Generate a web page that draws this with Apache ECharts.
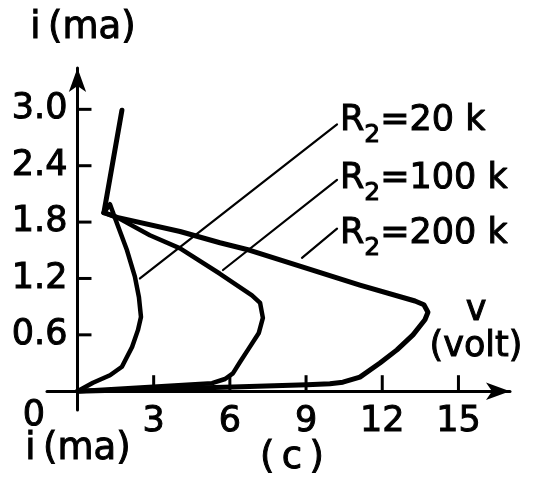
<!DOCTYPE html>
<html>
<head>
<meta charset="utf-8">
<script src="https://cdn.jsdelivr.net/npm/echarts@6/dist/echarts.min.js"></script>
<style>
  html, body { margin: 0; padding: 0; background: #fff; }
  #chart { width: 542px; height: 479px; }
</style>
</head>
<body>
<div id="chart"></div>
<script>
// Current–voltage characteristics for three values of R2.
// Points are [v (volt), i (mA)].
const upperBranch = [[1.75, 2.99], [1.04, 1.90]];

const curve20k = [
  [1.04, 1.90], [1.28, 1.99], [1.48, 1.84], [1.95, 1.50], [2.26, 1.22],
  [2.42, 1.00], [2.50, 0.79], [2.38, 0.65], [2.15, 0.47], [1.75, 0.26],
  [1.28, 0.17], [0.61, 0.09], [0, 0]
];

const curve100k = [
  [1.04, 1.90], [1.56, 1.85], [2.85, 1.66], [4.04, 1.52], [5.61, 1.25],
  [6.87, 1.02], [7.19, 0.94], [7.30, 0.78], [7.14, 0.62], [6.71, 0.44],
  [6.40, 0.31], [6.12, 0.19], [5.81, 0.13], [5.30, 0.085], [0, 0]
];

const curve200k = [
  [1.04, 1.90], [1.56, 1.85], [4.04, 1.70], [5.61, 1.58], [6.79, 1.50],
  [8.88, 1.32], [11.12, 1.13], [13.29, 0.96], [13.64, 0.92], [13.80, 0.84],
  [13.68, 0.76], [13.21, 0.60], [12.58, 0.44], [11.91, 0.30], [11.12, 0.15],
  [10.45, 0.096], [9.94, 0.08], [9.04, 0.07], [6.12, 0.045], [0, 0]
];

// Leader lines from each R2 label to its curve
const leader20k = [[10.22, 2.84], [2.46, 1.20]];
const leader100k = [[10.22, 2.25], [5.73, 1.29]];
const leader200k = [[10.22, 1.73], [8.84, 1.42]];

// Tick values on each axis
const voltTicks = [3, 6, 9, 12, 15];
const currentTicks = [0.6, 1.2, 1.8, 2.4, 3.0];
const voltStep = 3, voltLast = 15;
const currentStep = 0.6, currentLast = 3.0;

const labelR20 = '20 k';
const labelR100 = '100 k';
const labelR200 = '200 k';

const FONT = 'DejaVu Sans';
const INK = '#000';

function curve(data, width) {
  return {
    type: 'line', data: data, symbol: 'none', showSymbol: false,
    xAxisIndex: 0, yAxisIndex: 0,
    lineStyle: { color: INK, width: width, cap: 'round', join: 'round' },
    silent: true, z: 3
  };
}

// Short tick strokes placed through the axis scales; dx/dy give the
// stroke direction in pixels from the tick's position on the axis.
function tickMarks(points, dx, dy) {
  return {
    type: 'custom', xAxisIndex: 0, yAxisIndex: 0, silent: true, clip: false, z: 4,
    data: points,
    renderItem: function (params, api) {
      const p = api.coord([api.value(0), api.value(1)]);
      return {
        type: 'line',
        shape: { x1: p[0], y1: p[1], x2: p[0] + dx, y2: p[1] + dy },
        style: { stroke: INK, lineWidth: 3 }
      };
    }
  };
}

function plainText(text, x, y, size) {
  return {
    type: 'text', x: x, y: y, silent: true,
    style: {
      text: text, fill: INK, stroke: INK, lineWidth: 1,
      font: size + 'px "' + FONT + '"',
      align: 'center', verticalAlign: 'middle'
    }
  };
}

function resistorLabel(value, x, y) {
  return {
    type: 'text', x: x, y: y, silent: true,
    style: {
      text: '{r|R}{s|2}{r|=' + value + '}',
      fill: INK,
      align: 'left', verticalAlign: 'middle',
      rich: {
        r: { fontFamily: FONT, fontSize: 35, fill: INK, stroke: INK, lineWidth: 1, lineHeight: 40 },
        s: { fontFamily: FONT, fontSize: 25, fill: INK, stroke: INK, lineWidth: 1, lineHeight: 25, padding: [28, 0, 0, 0] }
      }
    }
  };
}

const chart = echarts.init(document.getElementById('chart'), null, { renderer: 'canvas' });

const axisText = {
  fontFamily: FONT, fontSize: 35, color: INK,
  textBorderColor: INK, textBorderWidth: 1
};

// Outer grid: the full axis lines (with the stubs past the origin), shifted
// inward so that they cross at zero. The curves are drawn here.
const W = 542, H = 479;
const OUTER = { left: 47, right: 32, top: 68, bottom: 69 };
const X_MIN = -1.2, X_MAX = 17.03, Y_MIN = -0.2, Y_MAX = 3.44;
const plotW = W - OUTER.left - OUTER.right;
const plotH = H - OUTER.top - OUTER.bottom;
const pxPerVolt = plotW / (X_MAX - X_MIN);
const pxPerMa = plotH / (Y_MAX - Y_MIN);
const originX = OUTER.left - X_MIN * pxPerVolt;
const originY = H - OUTER.bottom + Y_MIN * pxPerMa;

// Inner grid: same scale, starting at the origin and ending on the last
// tick, so that the labels fall on whole steps.
const INNER = {
  left: originX,
  bottom: H - originY,
  right: W - (originX + voltLast * pxPerVolt),
  top: originY - currentLast * pxPerMa
};

chart.setOption({
  animation: false,
  grid: [Object.assign({}, OUTER), Object.assign({}, INNER)],
  xAxis: [
    {
      gridIndex: 0, type: 'value', min: X_MIN, max: X_MAX,
      position: 'bottom', offset: -(0 - Y_MIN) * pxPerMa,
      splitLine: { show: false }, axisTick: { show: false }, axisLabel: { show: false },
      axisLine: {
        onZero: false, lineStyle: { color: INK, width: 3 },
        symbol: ['none', 'arrow'], symbolSize: [13, 24]
      }
    },
    {
      gridIndex: 1, type: 'value', min: 0, max: voltLast, interval: voltStep,
      splitLine: { show: false }, axisLine: { show: false }, axisTick: { show: false },
      axisLabel: Object.assign({ margin: 13, formatter: v => (v === 0 ? '' : String(v)) }, axisText)
    }
  ],
  yAxis: [
    {
      gridIndex: 0, type: 'value', min: Y_MIN, max: Y_MAX,
      position: 'left', offset: -(0 - X_MIN) * pxPerVolt,
      splitLine: { show: false }, axisTick: { show: false }, axisLabel: { show: false },
      axisLine: {
        onZero: false, lineStyle: { color: INK, width: 3 },
        symbol: ['none', 'arrow'], symbolSize: [13, 24]
      }
    },
    {
      gridIndex: 1, type: 'value', min: 0, max: currentLast, interval: currentStep,
      splitLine: { show: false }, axisLine: { show: false }, axisTick: { show: false },
      axisLabel: Object.assign({ margin: 10, formatter: v => (v === 0 ? '' : v.toFixed(1)) }, axisText)
    }
  ],
  series: [
    curve(upperBranch, 5),
    curve(curve20k, 4.5),
    curve(curve100k, 4.5),
    curve(curve200k, 5),
    curve(leader20k, 2.2),
    curve(leader100k, 2.2),
    curve(leader200k, 2.2),
    tickMarks(voltTicks.map(v => [v, 0]), 0, -16),
    tickMarks(currentTicks.map(c => [0, c]), 14, 0)
  ],
  graphic: [
    plainText('i\u2009(ma)', 83, 28, 37),
    plainText('0', 34, 416, 35),
    plainText('i\u2009(ma)', 78, 449, 37),
    plainText('(\u2009c\u2009)', 292, 458, 37),
    plainText('v', 476, 311, 35),
    plainText('(volt)', 476, 347, 35),
    resistorLabel(labelR20, 340, 121),
    resistorLabel(labelR100, 340, 179),
    resistorLabel(labelR200, 340, 234)
  ]
});
</script>
</body>
</html>
